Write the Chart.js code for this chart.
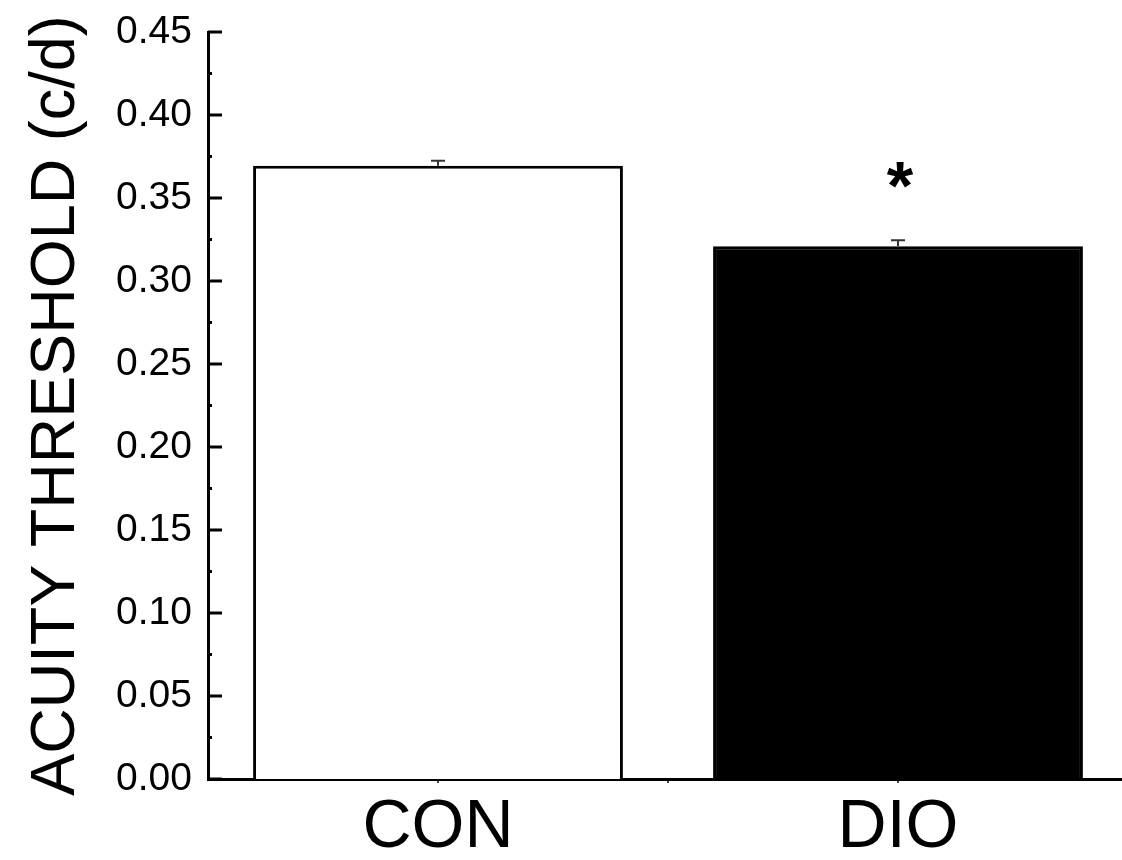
<!DOCTYPE html>
<html>
<head>
<meta charset="utf-8">
<script src="https://cdn.jsdelivr.net/npm/chart.js@4.4.1/dist/chart.umd.min.js"></script>
<style>
  html, body { margin: 0; padding: 0; background: #fff; overflow: hidden; }
  #wrap { position: relative; width: 1122px; height: 860px; overflow: hidden; }
</style>
</head>
<body>
<div id="wrap"><canvas id="acuityChart" width="1128" height="860"></canvas></div>
<script>
// values
var groups = ['CON', 'DIO'];
var acuity = [0.3695, 0.321];
var sem = [0.003, 0.0035];
var marks = ['', '*'];
var barFill = ['#ffffff', '#000000'];
var yTicks = [0, 0.05, 0.10, 0.15, 0.20, 0.25, 0.30, 0.35, 0.40, 0.45];

// ticks drawn inward like the original plot, error bars and the star
const figureExtras = {
    id: 'figureExtras',
    afterDatasetsDraw(chart) {
        const ctx = chart.ctx;
        const x = chart.scales.x;
        const y = chart.scales.y;
        const meta = chart.getDatasetMeta(0);

        ctx.save();
        // error bars (upper only)
        ctx.strokeStyle = '#333';
        ctx.lineWidth = 2;
        meta.data.forEach((bar, i) => {
            const top = y.getPixelForValue(acuity[i] + sem[i]);
            const base = y.getPixelForValue(acuity[i]);
            ctx.beginPath();
            ctx.moveTo(bar.x, base);
            ctx.lineTo(bar.x, top);
            ctx.moveTo(bar.x - 7, top);
            ctx.lineTo(bar.x + 7, top);
            ctx.stroke();
            if (marks[i]) {
                ctx.fillStyle = '#000';
                ctx.font = 'bold 68px "Liberation Sans", Arial, sans-serif';
                ctx.textAlign = 'center';
                ctx.textBaseline = 'alphabetic';
                ctx.fillText(marks[i], bar.x + 2, top - 31);
            }
        });

        // y ticks pointing into the plot
        ctx.strokeStyle = '#000';
        ctx.lineWidth = 3;
        const left = chart.chartArea.left;
        yTicks.forEach((v, i) => {
            const py = y.getPixelForValue(v);
            ctx.beginPath();
            ctx.moveTo(left, py);
            ctx.lineTo(left + 14, py);
            ctx.stroke();
            if (i < yTicks.length - 1) {
                const my = y.getPixelForValue((v + yTicks[i + 1]) / 2);
                ctx.beginPath();
                ctx.moveTo(left, my);
                ctx.lineTo(left + 4, my);
                ctx.stroke();
            }
        });

        // small x ticks at the group centres and between them
        ctx.lineWidth = 1.5;
        const bottom = chart.chartArea.bottom;
        for (let k = 0; k < groups.length; k++) {
            [k, k + 0.5].forEach(v => {
                const px = x.getPixelForValue(v);
                ctx.beginPath();
                ctx.moveTo(px, bottom);
                ctx.lineTo(px, bottom + 4);
                ctx.stroke();
            });
        }
        ctx.restore();
    }
};

new Chart(document.getElementById('acuityChart').getContext('2d'), {
    type: 'bar',
    data: {
        labels: groups,
        datasets: [{
            data: acuity,
            backgroundColor: barFill,
            borderColor: '#000',
            borderWidth: 3,
            categoryPercentage: 1.0,
            barPercentage: 0.804
        }]
    },
    options: {
        responsive: false,
        animation: false,
        layout: { padding: { top: 32, right: 0, bottom: 0, left: 0 } },
        plugins: {
            legend: { display: false },
            tooltip: { enabled: false }
        },
        scales: {
            x: {
                grid: { display: false, drawTicks: false },
                border: { display: true, color: '#000', width: 3 },
                ticks: {
                    color: '#000',
                    padding: 8,
                    font: { family: '"Liberation Sans", Arial, sans-serif', size: 68 }
                },
                afterFit(scale) { scale.height = 81; }
            },
            y: {
                min: 0,
                max: 0.45,
                afterBuildTicks(scale) {
                    scale.ticks = yTicks.map(v => ({ value: v }));
                },
                grid: { display: false, drawTicks: false },
                border: { display: true, color: '#000', width: 3 },
                ticks: {
                    color: '#000',
                    padding: 16,
                    font: { family: '"Liberation Sans", Arial, sans-serif', size: 39 },
                    callback: v => v.toFixed(2)
                },
                title: {
                    display: true,
                    text: 'ACUITY THRESHOLD (c/d)',
                    color: '#000',
                    padding: { top: 19, bottom: 0 },
                    font: { family: '"Liberation Sans", Arial, sans-serif', size: 63 }
                },
                afterFit(scale) {
                    scale.width = 208;
                    scale.paddingTop = 0;
                    scale.paddingBottom = 0;
                }
            }
        }
    },
    plugins: [figureExtras]
});
</script>
</body>
</html>
